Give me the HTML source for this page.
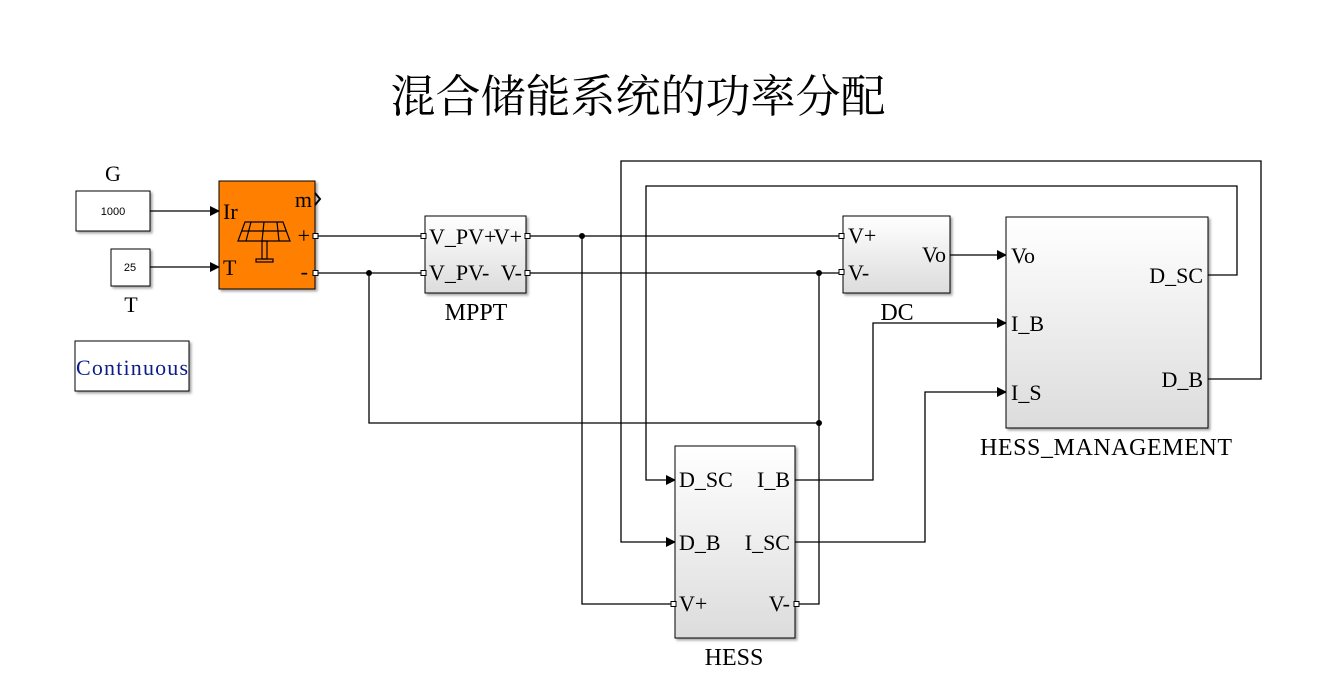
<!DOCTYPE html><html><head><meta charset="utf-8"><style>body{margin:0;background:#fff}svg{display:block}</style></head><body>
<svg width="1332" height="680" xmlns="http://www.w3.org/2000/svg" font-family="Liberation Serif, serif">
<defs>
<marker id="a" markerWidth="10" markerHeight="10" refX="9" refY="5" orient="auto" markerUnits="userSpaceOnUse"><path d="M0,0 L10,5 L0,10z" fill="#000"/></marker>
<linearGradient id="g" x1="0" y1="0" x2="0" y2="1"><stop offset="0" stop-color="#fff"/><stop offset="1" stop-color="#dcdcdc"/></linearGradient>
<filter id="s"><feDropShadow dx="2" dy="2" stdDeviation="1.2" flood-opacity="0.35"/></filter>
</defs>
<text x="638" y="112" font-size="45" text-anchor="middle" font-family="Liberation Serif, Noto Serif CJK SC, serif">混合储能系统的功率分配</text>
<g fill="none" stroke="#000" stroke-width="1.3">
<line x1="150" y1="211" x2="219" y2="211" marker-end="url(#a)"/>
<line x1="150" y1="267" x2="219" y2="267" marker-end="url(#a)"/>
<line x1="315" y1="236" x2="425" y2="236"/>
<line x1="315" y1="273" x2="425" y2="273"/>
<line x1="526" y1="236" x2="843" y2="236"/>
<line x1="526" y1="273" x2="843" y2="273"/>
<polyline points="582,236 582,604 675,604"/>
<polyline points="369,273 369,423 819,423"/>
<polyline points="819,273 819,604 795,604"/>
<line x1="950" y1="255" x2="1006" y2="255" marker-end="url(#a)"/>
<polyline points="1208,275 1237,275 1237,186 646,186 646,480 675,480" marker-end="url(#a)"/>
<polyline points="1208,379 1261,379 1261,161 621,161 621,542 675,542" marker-end="url(#a)"/>
<polyline points="795,480 873,480 873,323 1006,323" marker-end="url(#a)"/>
<polyline points="795,542 925,542 925,392 1006,392" marker-end="url(#a)"/>
</g>
<g fill="#000"><circle cx="582" cy="236" r="3"/><circle cx="369" cy="273" r="3"/><circle cx="819" cy="273" r="3"/><circle cx="819" cy="423" r="3"/></g>
<g stroke="#000" stroke-width="1" filter="url(#s)">
<rect x="76" y="191" width="74" height="40" fill="#fff"/>
<rect x="111" y="249" width="39" height="37" fill="#fff"/>
<rect x="75" y="341" width="114" height="50" fill="#fff"/>
<rect x="219" y="181" width="96" height="108" fill="#ff8000"/>
<rect x="425" y="216" width="101" height="77" fill="url(#g)"/>
<rect x="843" y="216" width="107" height="77" fill="url(#g)"/>
<rect x="1006" y="217" width="202" height="211" fill="url(#g)"/>
<rect x="675" y="446" width="120" height="192" fill="url(#g)"/>
</g>
<g fill="#fff" stroke="#000" stroke-width="1">
<rect x="313" y="233.5" width="5" height="5"/><rect x="313" y="270.5" width="5" height="5"/>
<rect x="421" y="233.5" width="5" height="5"/><rect x="421" y="270.5" width="5" height="5"/>
<rect x="525" y="233.5" width="5" height="5"/><rect x="525" y="270.5" width="5" height="5"/>
<rect x="839" y="233.5" width="5" height="5"/><rect x="839" y="269.5" width="5" height="5"/>
<rect x="671" y="601.5" width="5" height="5"/><rect x="794" y="601.5" width="5" height="5"/>
</g>
<polyline points="315,193 320,199 315,205" fill="none" stroke="#000" stroke-width="2"/>
<g font-family="Liberation Sans, sans-serif" font-size="11" text-anchor="middle"><text x="113" y="215">1000</text><text x="130" y="271">25</text></g>
<text x="132" y="375" font-size="22" fill="#0b1d8c" text-anchor="middle" textLength="112">Continuous</text>
<g font-size="22">
<text x="113" y="181" text-anchor="middle">G</text>
<text x="131" y="312" text-anchor="middle">T</text>
<text x="223" y="219">Ir</text><text x="223" y="275">T</text>
<text x="312" y="207" text-anchor="end">m</text><text x="310" y="243" text-anchor="end">+</text><text x="308" y="279" text-anchor="end">-</text>
<text x="429" y="244">V_PV+</text><text x="522" y="244" text-anchor="end">V+</text>
<text x="429" y="280">V_PV-</text><text x="522" y="280" text-anchor="end">V-</text>
<text x="848" y="243">V+</text><text x="848" y="280">V-</text><text x="946" y="262" text-anchor="end">Vo</text>
<text x="1011" y="263">Vo</text><text x="1011" y="331">I_B</text><text x="1011" y="400">I_S</text>
<text x="1203" y="283" text-anchor="end">D_SC</text><text x="1203" y="387" text-anchor="end">D_B</text>
<text x="679" y="487">D_SC</text><text x="679" y="550">D_B</text><text x="679" y="611">V+</text>
<text x="790" y="487" text-anchor="end">I_B</text><text x="790" y="550" text-anchor="end">I_SC</text><text x="790" y="611" text-anchor="end">V-</text>
</g>
<g font-size="24" text-anchor="middle">
<text x="476" y="320">MPPT</text>
<text x="897" y="320">DC</text>
<text x="1106" y="455" textLength="252">HESS_MANAGEMENT</text>
<text x="734" y="665">HESS</text>
</g>
<g fill="none" stroke="#000" stroke-width="1.2">
<path d="M245,222 L283,222 L290,241 L238,241 Z"/>
<line x1="264" y1="222" x2="262" y2="241"/><line x1="251" y1="222" x2="246" y2="241"/><line x1="277" y1="222" x2="279" y2="241"/>
<line x1="242" y1="231" x2="286" y2="231"/>
<rect x="262" y="241" width="5" height="18"/><rect x="256" y="259" width="17" height="3"/>
</g>
</svg></body></html>
